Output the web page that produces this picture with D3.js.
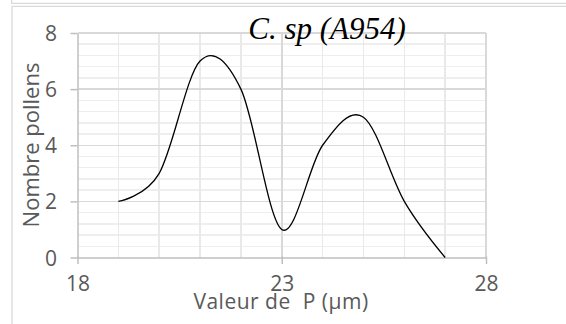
<!DOCTYPE html>
<html>
<head>
<meta charset="utf-8">
<script src="https://cdn.jsdelivr.net/npm/d3@7"></script>
<style>
  html, body { margin: 0; padding: 0; background: #fff; }
  svg { display: block; }
</style>
</head>
<body>
<svg id="chart" width="566" height="324"></svg>
<script>
// Pollen size distribution (P value, µm) for C. sp (A954)
const sizes = [19, 20, 21, 22, 23, 24, 25, 26, 27];
const counts = [2, 3, 7, 6, 1, 4, 5, 2, 0];
const xTicks = [18, 23, 28];
const yTicks = [0, 2, 4, 6, 8];
const title = "C. sp (A954)";
const xTitle = "Valeur de\u00a0 P (µm)";
const yTitle = "Nombre pollens";

const svg = d3.select("#chart");
const W = 566, H = 324;
const sans = "'Open Sans', sans-serif";
const textGray = "#595959";

svg.append("rect").attr("width", W).attr("height", H).attr("fill", "#fff");

// chart frames
const frame = svg.append("g").attr("fill", "none").attr("stroke", "#d9d9d9").attr("stroke-width", 1.3);
frame.append("path").attr("d", `M11.7,0 V3.3 H${W}`);
frame.append("path").attr("d", `M12,${H} V6.3 H${W}`);

const x = d3.scaleLinear().domain([18, 28]).range([77.5, 486]);
const y = d3.scaleLinear().domain([0, 8]).range([257.5, 33]);

const grid = svg.append("g").attr("shape-rendering", "crispEdges");

// minor horizontal grid every 0.4
grid.selectAll(".hminor").data(d3.range(0.4, 8, 0.4).filter(v => Math.abs(v / 2 - Math.round(v / 2)) > 1e-6))
  .join("line")
  .attr("x1", x(18)).attr("x2", x(28))
  .attr("y1", d => y(d)).attr("y2", d => y(d))
  .attr("stroke", "#eeeeee").attr("stroke-width", 1.5);

// minor vertical grid every 1
grid.selectAll(".vminor").data(d3.range(19, 28).filter(v => v !== 23))
  .join("line")
  .attr("x1", d => x(d)).attr("x2", d => x(d))
  .attr("y1", y(8)).attr("y2", y(0))
  .attr("stroke", "#e9e9e9").attr("stroke-width", 1.5);

// major horizontal grid
grid.selectAll(".hmajor").data(yTicks.filter(v => v > 0))
  .join("line")
  .attr("x1", x(18)).attr("x2", x(28))
  .attr("y1", d => y(d)).attr("y2", d => y(d))
  .attr("stroke", "#d9d9d9").attr("stroke-width", 1.5);

// major vertical grid
grid.selectAll(".vmajor").data(xTicks.filter(v => v > 18))
  .join("line")
  .attr("x1", d => x(d)).attr("x2", d => x(d))
  .attr("y1", y(8)).attr("y2", y(0))
  .attr("stroke", "#d9d9d9").attr("stroke-width", 1.5);

// axes
const axisColor = "#bfbfbf";
const xAxis = svg.append("g").attr("transform", `translate(0,${y(0)})`)
  .call(d3.axisBottom(x).tickValues(xTicks).tickSize(6.5).tickSizeOuter(0));
const yAxis = svg.append("g").attr("transform", `translate(${x(18)},0)`)
  .call(d3.axisLeft(y).tickValues(yTicks).tickSize(7).tickSizeOuter(0));

[xAxis, yAxis].forEach(a => {
  a.select(".domain").attr("stroke", axisColor).attr("stroke-width", 1.5);
  a.selectAll(".tick line").attr("stroke", axisColor).attr("stroke-width", 1.5);
  a.selectAll(".tick text")
    .attr("fill", textGray)
    .attr("font-family", sans)
    .attr("font-size", 21);
});
// x ticks also cross slightly above the axis line
xAxis.selectAll(".tick line").attr("y1", -1);
xAxis.selectAll(".tick text").attr("dy", null).attr("y", 33.5);
yAxis.selectAll(".tick text").attr("x", -20.5).attr("dy", "0.36em");

// smoothed curve
const line = d3.line()
  .x((d, i) => x(sizes[i]))
  .y(d => y(d))
  .curve(d3.curveCatmullRom.alpha(0));

svg.append("path")
  .datum(counts)
  .attr("d", line)
  .attr("fill", "none")
  .attr("stroke", "#000")
  .attr("stroke-width", 1.3);

// titles
svg.append("text")
  .attr("x", 327).attr("y", 39)
  .attr("text-anchor", "middle")
  .attr("font-family", "'Liberation Serif', 'Times New Roman', serif")
  .attr("font-style", "italic")
  .attr("font-size", 31)
  .attr("fill", "#000")
  .text(title);

svg.append("text")
  .attr("x", 281).attr("y", 308.5)
  .attr("text-anchor", "middle")
  .attr("font-family", sans)
  .attr("font-size", 21)
  .attr("letter-spacing", 0.5)
  .attr("fill", textGray)
  .text(xTitle);

svg.append("text")
  .attr("transform", "translate(38.5,145) rotate(-90)")
  .attr("text-anchor", "middle")
  .attr("font-family", sans)
  .attr("font-size", 22)
  .attr("fill", textGray)
  .text(yTitle);
</script>
</body>
</html>
